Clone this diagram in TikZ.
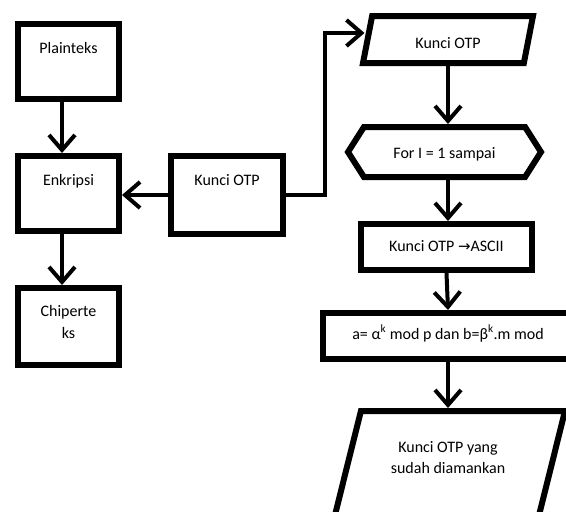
\documentclass[tikz,border=0pt]{standalone}
\usepackage{fontspec}
\setmainfont{Carlito}
\newfontfamily\arrowfont{DejaVu Sans}
\usetikzlibrary{shapes.geometric, shapes.symbols, arrows.meta, positioning}

\begin{document}
\begin{tikzpicture}[
    x=1pt, y=1pt,
    node distance=51pt,
    procbox/.style={draw, line width=6pt, minimum width=101pt, inner xsep=0pt, inner ysep=0pt, text height=29.5pt, text depth=45.5pt, align=center, font=\fontsize{16}{22}\selectfont},
    iobox/.style={draw, line width=6pt, trapezium, trapezium left angle=79, trapezium right angle=101, trapezium stretches body, inner xsep=0pt, inner ysep=0pt, align=center, font=\fontsize{16}{21}\selectfont},
    loopbox/.style={draw, line width=6pt, signal, signal to=west and east, signal pointer angle=115, inner xsep=0pt, inner ysep=0pt, font=\fontsize{16}{22}\selectfont},
    flow/.style={-{Straight Barb[length=15pt, width=26pt]}, line width=4pt}
]
\useasboundingbox (0,0) rectangle (566,-512);
\clip (0,0) rectangle (566,-512);
% left column
\node[procbox] (plain) at (68.5,-61.5) {Plainteks};
\node[procbox, below=of plain] (enkripsi) {Enkripsi};
\node[procbox, below=of enkripsi, text height=50pt, text depth=27pt] (chiper) {Chiperte\\ks};
\node[procbox, minimum width=112pt, text depth=48.5pt] (kunci) at (227,-195) {Kunci OTP};
% right column
\node[iobox, minimum width=170pt, text height=32pt, text depth=15pt] (otp) at (448,-39.5) {Kunci OTP};
\node[loopbox, minimum width=193pt, text height=31pt, text depth=19pt, below=58pt of otp, xshift=-3.5pt] (loop) {For I = 1 sampai};
\node[procbox, minimum width=171pt, text height=27pt, text depth=19pt, below=41pt of loop, xshift=2pt] (ascii) {Kunci OTP {\arrowfont\fontsize{15}{16}\selectfont →}ASCII};
\node[procbox, minimum width=250pt, text height=26pt, text depth=20pt, below=37pt of ascii, xshift=1.5pt] (rumus) {a= α\textsuperscript{k} mod p dan b=β\textsuperscript{k}.m mod};
\node[iobox, trapezium left angle=76, trapezium right angle=104, minimum width=234pt, text height=62pt, text depth=58pt, below=46pt of rumus] (hasil) {Kunci OTP yang\\sudah diamankan};
% connectors
\draw[flow] ([xshift=-6.5pt]plain.south) -- ([xshift=-6.5pt]enkripsi.north);
\draw[flow] ([xshift=-6.5pt]enkripsi.south) -- ([xshift=-6.5pt]chiper.north);
\draw[flow] (kunci.west) -- (kunci.west -| enkripsi.east);
\draw[flow] (kunci.east) -- ++(39pt,0) |- ([yshift=6.5pt]otp.west);
\draw[flow] (otp.south) -- (otp.south |- loop.north);
\draw[flow] (otp.south |- loop.south) -- (otp.south |- ascii.north);
\draw[flow] (ascii.south) -- (rumus.north);
\draw[flow] (rumus.south) -- (hasil.north);
\end{tikzpicture}
\end{document}
